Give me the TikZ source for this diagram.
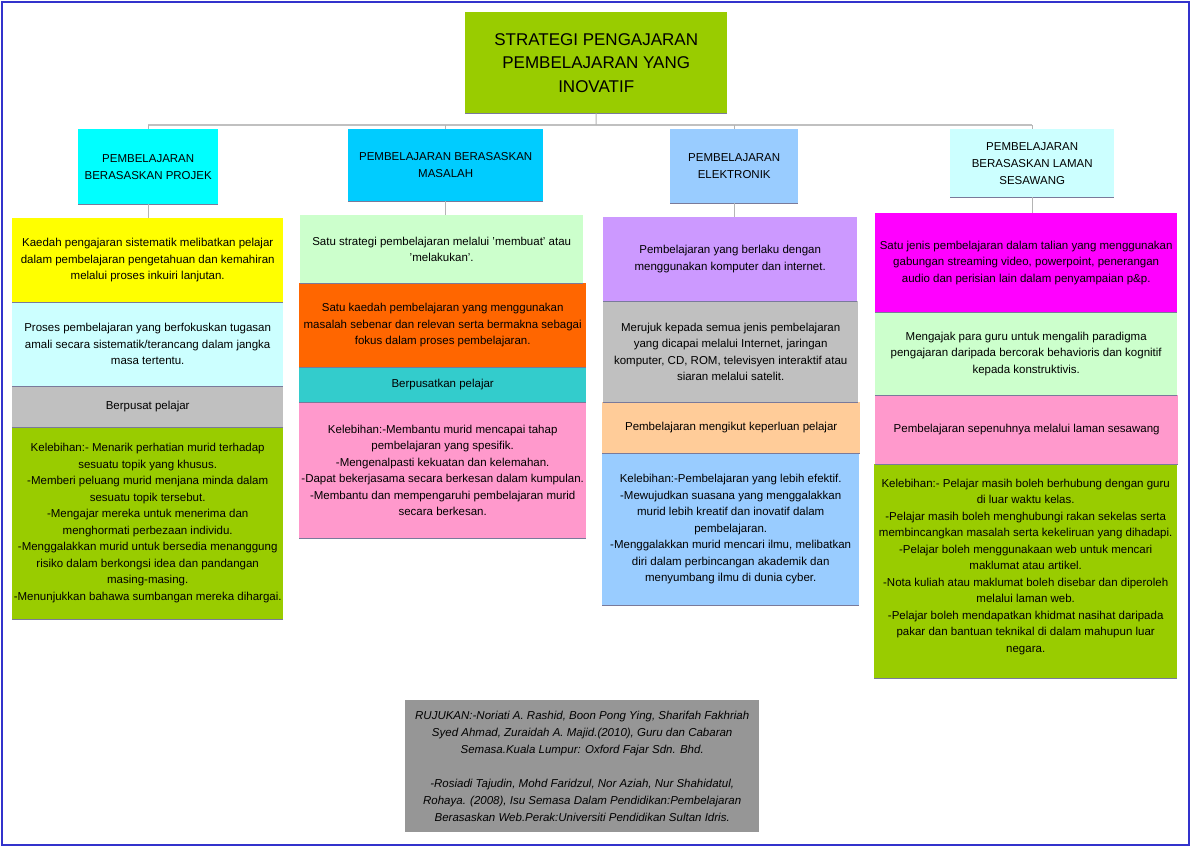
\documentclass[tikz,border=0pt]{standalone}
\usepackage{fontspec}
\setmainfont{Liberation Sans}
\definecolor{cTitle}{HTML}{99CC00}
\definecolor{cCyan}{HTML}{00FFFF}
\definecolor{cSky}{HTML}{00CCFF}
\definecolor{cPaleBlue}{HTML}{99CCFF}
\definecolor{cLightCyan}{HTML}{CCFFFF}
\definecolor{cYellow}{HTML}{FFFF00}
\definecolor{cGray}{HTML}{C0C0C0}
\definecolor{cGreen}{HTML}{99CC00}
\definecolor{cLightGreen}{HTML}{CCFFCC}
\definecolor{cOrange}{HTML}{FF6600}
\definecolor{cTeal}{HTML}{33CCCC}
\definecolor{cPink}{HTML}{FF99CC}
\definecolor{cPurple}{HTML}{CC99FF}
\definecolor{cLightOrange}{HTML}{FFCC99}
\definecolor{cMagenta}{HTML}{FF00FF}
\definecolor{cRef}{HTML}{969696}
\definecolor{cBorder}{HTML}{3333CC}
\definecolor{cLine}{HTML}{B4B4B4}
\definecolor{cShade}{HTML}{7A7A9A}
\begin{document}
\begin{tikzpicture}[x=1pt,y=-1pt,
  bx/.style={rectangle, inner sep=0pt, anchor=north west, align=center,
    font=\fontsize{11.5}{16.5}\selectfont, text=black},
  headbox/.style={bx, font=\fontsize{11.5}{17}\selectfont},
  titlebox/.style={bx, font=\fontsize{17}{23.5}\selectfont},
  refbox/.style={bx, font=\fontsize{11.5}{17}\selectfont\itshape},
  conn/.style={draw=cLine, line width=1pt},
  hconn/.style={draw=cGray, line width=2pt},
  shade/.style={draw=cShade, line width=1.2pt}]
\useasboundingbox (0,0) rectangle (1200,856);
\fill[white] (0,0) rectangle (1200,856);
\draw[cBorder, line width=2.5pt] (2,2) rectangle (1189,845);

% title
\node[titlebox, fill=cTitle, minimum width=262pt, minimum height=101pt] (title) at (465,12)
  {STRATEGI PENGAJARAN\\PEMBELAJARAN YANG\\INOVATIF};

% level 2
\node[headbox, fill=cCyan, minimum width=140pt, minimum height=75pt] (b1) at (78,129)
  {PEMBELAJARAN\\BERASASKAN PROJEK};
\node[headbox, fill=cSky, minimum width=195pt, minimum height=72pt] (b2) at (348,129)
  {PEMBELAJARAN BERASASKAN\\MASALAH};
\node[headbox, fill=cPaleBlue, minimum width=128pt, minimum height=74pt] (b3) at (670,129)
  {PEMBELAJARAN\\ELEKTRONIK};
\node[headbox, fill=cLightCyan, minimum width=164pt, minimum height=68pt] (b4) at (950,129)
  {PEMBELAJARAN\\BERASASKAN LAMAN\\SESAWANG};

% column 1
\node[bx, fill=cYellow, minimum width=271pt, minimum height=84pt] (c1a) at (12,218)
  {Kaedah pengajaran sistematik melibatkan pelajar\\dalam pembelajaran pengetahuan dan kemahiran\\melalui proses inkuiri lanjutan.};
\node[bx, fill=cLightCyan, minimum width=271pt, minimum height=84pt] (c1b) at (12,302)
  {Proses pembelajaran yang berfokuskan tugasan\\amali secara sistematik/terancang dalam jangka\\masa tertentu.};
\node[bx, fill=cGray, minimum width=271pt, minimum height=41pt] (c1c) at (12,386)
  {Berpusat pelajar};
\node[bx, fill=cGreen, minimum width=271pt, minimum height=192pt] (c1d) at (12,427)
  {Kelebihan:- Menarik perhatian murid terhadap\\sesuatu topik yang khusus.\\-Memberi peluang murid menjana minda dalam\\sesuatu topik tersebut.\\-Mengajar mereka untuk menerima dan\\menghormati perbezaan individu.\\-Menggalakkan murid untuk bersedia menanggung\\risiko dalam berkongsi idea dan pandangan\\masing-masing.\\-Menunjukkan bahawa sumbangan mereka dihargai.};

% column 2
\node[bx, fill=cLightGreen, minimum width=283pt, minimum height=68pt] (c2a) at (300,215)
  {Satu strategi pembelajaran melalui 'membuat' atau\\'melakukan'.};
\node[bx, fill=cOrange, minimum width=287pt, minimum height=84pt] (c2b) at (299,283)
  {Satu kaedah pembelajaran yang menggunakan\\masalah sebenar dan relevan serta bermakna sebagai\\fokus dalam proses pembelajaran.};
\node[bx, fill=cTeal, minimum width=287pt, minimum height=35pt] (c2c) at (299,367)
  {Berpusatkan pelajar};
\node[bx, fill=cPink, minimum width=287pt, minimum height=136pt] (c2d) at (299,402)
  {Kelebihan:-Membantu murid mencapai tahap\\pembelajaran yang spesifik.\\-Mengenalpasti kekuatan dan kelemahan.\\-Dapat bekerjasama secara berkesan dalam kumpulan.\\-Membantu dan mempengaruhi pembelajaran murid\\secara berkesan.};

% column 3
\node[bx, fill=cPurple, minimum width=254pt, minimum height=84pt] (c3a) at (603,217)
  {Pembelajaran yang berlaku dengan\\menggunakan komputer dan internet.};
\node[bx, fill=cGray, minimum width=255pt, minimum height=101pt] (c3b) at (603,301)
  {Merujuk kepada semua jenis pembelajaran\\yang dicapai melalui Internet, jaringan\\komputer, CD, ROM, televisyen interaktif atau\\siaran melalui satelit.};
\node[bx, fill=cLightOrange, minimum width=258pt, minimum height=51pt] (c3c) at (602,402)
  {Pembelajaran mengikut keperluan pelajar};
\node[bx, fill=cPaleBlue, minimum width=257pt, minimum height=152pt] (c3d) at (602,453)
  {Kelebihan:-Pembelajaran yang lebih efektif.\\-Mewujudkan suasana yang menggalakkan\\murid lebih kreatif dan inovatif dalam\\pembelajaran.\\-Menggalakkan murid mencari ilmu, melibatkan\\diri dalam perbincangan akademik dan\\menyumbang ilmu di dunia cyber.};

% column 4
\node[bx, fill=cMagenta, minimum width=302pt, minimum height=99pt] (c4a) at (875,213)
  {Satu jenis pembelajaran dalam talian yang menggunakan\\gabungan streaming video, powerpoint, penerangan\\audio dan perisian lain dalam penyampaian p\&p.};
\node[bx, fill=cLightGreen, minimum width=302pt, minimum height=83pt] (c4b) at (875,312)
  {Mengajak para guru untuk mengalih paradigma\\pengajaran daripada bercorak behavioris dan kognitif\\kepada konstruktivis.};
\node[bx, fill=cPink, minimum width=303pt, minimum height=69pt] (c4c) at (875,395)
  {Pembelajaran sepenuhnya melalui laman sesawang};
\node[bx, fill=cGreen, minimum width=303pt, minimum height=214pt] (c4d) at (874,464)
  {Kelebihan:- Pelajar masih boleh berhubung dengan guru\\di luar waktu kelas.\\-Pelajar masih boleh menghubungi rakan sekelas serta\\membincangkan masalah serta kekeliruan yang dihadapi.\\-Pelajar boleh menggunakaan web untuk mencari\\maklumat atau artikel.\\-Nota kuliah atau maklumat boleh disebar dan diperoleh\\melalui laman web.\\-Pelajar boleh mendapatkan khidmat nasihat daripada\\pakar dan bantuan teknikal di dalam mahupun luar\\negara.\\[-5.5pt]};

% reference
\node[refbox, fill=cRef, minimum width=354pt, minimum height=132pt] (ref) at (405,700)
  {RUJUKAN:-Noriati A. Rashid, Boon Pong Ying, Sharifah Fakhriah\\Syed Ahmad, Zuraidah A. Majid.(2010), Guru dan Cabaran\\Semasa.Kuala Lumpur: Oxford Fajar Sdn. Bhd.\\[17pt]-Rosiadi Tajudin, Mohd Faridzul, Nor Aziah, Nur Shahidatul,\\Rohaya. (2008), Isu Semasa Dalam Pendidikan:Pembelajaran\\Berasaskan Web.Perak:Universiti Pendidikan Sultan Idris.};

% shading lines at box bottoms
\foreach \n in {title,b1,b2,b3,b4,c1a,c1b,c1c,c1d,c2a,c2b,c2c,c2d,c3a,c3b,c3c,c3d,c4a,c4b,c4c,c4d}
  \draw[shade] (\n.south west) -- (\n.south east);

% connectors
\coordinate (hj) at (596,125);
\coordinate (hl) at (148,125);
\coordinate (hr) at (1032,125);
\draw[hconn] (hl) -- (hr);
\draw[conn] (title.south) -- (hj);
\foreach \n in {b1,b2,b3,b4}
  \draw[conn] (\n.north) -- (\n.north |- hj);
\draw[conn] (b1.south) -- (b1.south |- c1a.north);
\draw[conn] (b2.south) -- (b2.south |- c2a.north);
\draw[conn] (b3.south) -- (b3.south |- c3a.north);
\draw[conn] (b4.south) -- (b4.south |- c4a.north);
\end{tikzpicture}
\end{document}
